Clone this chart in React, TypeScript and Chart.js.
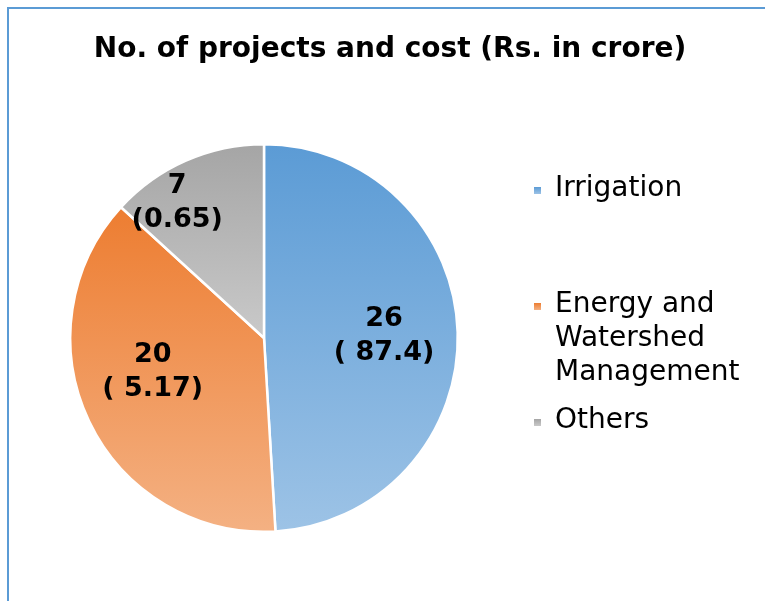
import React, { useEffect, useRef } from "react";
import { Chart, registerables } from "chart.js";

Chart.register(...registerables);

const TITLE = "No. of projects and cost (Rs. in crore)";
const categories = ["Irrigation", "Energy and Watershed Management", "Others"];
const legendLines = [["Irrigation"], ["Energy and", "Watershed", "Management"], ["Others"]];
const projects = [26, 20, 7];
const costs = ["87.4", "5.17", "0.65"];
const costLabels = ["( 87.4)", "( 5.17)", "(0.65)"];
const baseColors = ["#5b9bd5", "#ed7d31", "#a5a5a5"];
const lightColors = ["#9dc3e6", "#f4b183", "#c9c9c9"];

// label placement (fraction of radius, angular shift in degrees from slice mid-angle)
const LABEL_RADIUS = [0.62, 0.6, 0.83];
const LABEL_SHIFT = [0.7, 8.7, -8.9];

const FONT = "'DejaVu Sans', Verdana, sans-serif";
const W = 765;
const H = 601;

function sliceAngles(i: number) {
  const total = projects.reduce((a, b) => a + b, 0);
  let acc = 0;
  for (let k = 0; k < i; k++) acc += projects[k];
  const s = -Math.PI / 2 + (acc / total) * Math.PI * 2;
  const e = s + (projects[i] / total) * Math.PI * 2;
  return [s, e];
}

function sliceGradient(chart: any, i: number) {
  const area = chart.chartArea;
  if (!area) return baseColors[i];
  const cx = (area.left + area.right) / 2;
  const cy = (area.top + area.bottom) / 2;
  const R = Math.min(area.right - area.left, area.bottom - area.top) / 2;
  const [s, e] = sliceAngles(i);
  const ys = [cy, cy + R * Math.sin(s), cy + R * Math.sin(e)];
  const inRange = (a: number) => a >= s && a <= e;
  if (inRange(Math.PI / 2)) ys.push(cy + R);
  if (inRange(-Math.PI / 2) || inRange((3 * Math.PI) / 2)) ys.push(cy - R);
  const y0 = Math.min(...ys);
  const y1 = Math.max(...ys);
  const g = chart.ctx.createLinearGradient(0, y0, 0, y1);
  g.addColorStop(0, baseColors[i]);
  g.addColorStop(1, lightColors[i]);
  return g;
}

const overlayPlugin = {
  id: "overlay",
  afterDraw(chart: any) {
    const ctx = chart.ctx;
    ctx.save();
    // title
    ctx.fillStyle = "#000";
    ctx.font = `bold 28px ${FONT}`;
    ctx.textAlign = "center";
    ctx.textBaseline = "alphabetic";
    ctx.fillText(TITLE, 390, 57);

    // legend
    ctx.font = `28px ${FONT}`;
    ctx.textAlign = "left";
    const firstBaselines = [196, 312, 428];
    legendLines.forEach((lines, i) => {
      const b = firstBaselines[i];
      const g = ctx.createLinearGradient(0, b - 9, 0, b - 2);
      g.addColorStop(0, baseColors[i]);
      g.addColorStop(1, lightColors[i]);
      ctx.fillStyle = g;
      ctx.fillRect(534, b - 9, 7, 7);
      ctx.fillStyle = "#000";
      lines.forEach((t, j) => ctx.fillText(t, 555, b + j * 34));
    });

    // data labels
    const meta = chart.getDatasetMeta(0);
    ctx.font = `bold 27px ${FONT}`;
    ctx.textAlign = "center";
    ctx.textBaseline = "middle";
    ctx.fillStyle = "#000";
    meta.data.forEach((arc: any, i: number) => {
      const mid = (arc.startAngle + arc.endAngle) / 2 + (LABEL_SHIFT[i] * Math.PI) / 180;
      const r = arc.outerRadius * LABEL_RADIUS[i];
      const x = arc.x + r * Math.cos(mid);
      const y = arc.y + r * Math.sin(mid);
      ctx.fillText(String(projects[i]), x, y - 17);
      ctx.fillText(costLabels[i], x, y + 17);
    });
    ctx.restore();
  },
};

export default function App() {
  const ref = useRef<HTMLCanvasElement>(null);
  useEffect(() => {
    if (!ref.current) return;
    const chart = new Chart(ref.current, {
      type: "pie",
      data: {
        labels: categories,
        datasets: [
          {
            data: projects,
            backgroundColor: (c: any) => sliceGradient(c.chart, c.dataIndex),
            borderColor: "#ffffff",
            borderWidth: 2.5,
          },
        ],
      },
      options: {
        responsive: false,
        animation: false,
        layout: { padding: { left: 69, top: 143, right: 306, bottom: 68 } },
        plugins: {
          legend: { display: false },
          title: { display: false },
          tooltip: { enabled: false },
        },
      },
      plugins: [overlayPlugin],
    });
    return () => chart.destroy();
  }, []);
  return (
    <div style={{ position: "fixed", left: 0, top: 0, width: W, height: H, background: "#fff" }}>
      <canvas ref={ref} width={W} height={H} style={{ display: "block" }} />
      <div
        style={{
          position: "absolute",
          left: 7,
          top: 7,
          right: 0,
          bottom: 0,
          borderLeft: "2px solid #5b9bd5",
          borderTop: "2px solid #5b9bd5",
          pointerEvents: "none",
        }}
      />
    </div>
  );
}
